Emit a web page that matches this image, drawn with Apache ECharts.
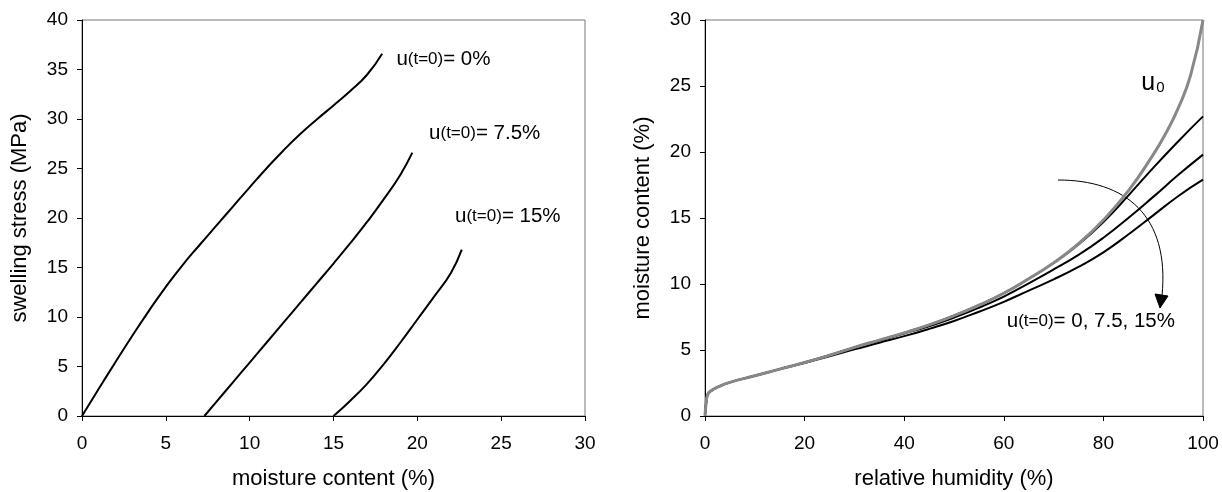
<!DOCTYPE html>
<html>
<head>
<meta charset="utf-8">
<script src="https://cdn.jsdelivr.net/npm/echarts@6/dist/echarts.min.js"></script>
<style>
html,body{margin:0;padding:0;background:#fff;}
#chart{width:1222px;height:492px;}
</style>
</head>
<body>
<div id="chart"></div>
<script>
// ---- Left panel: swelling stress vs moisture content ----
const leftXTicks = [0, 5, 10, 15, 20, 25, 30];
const leftYTicks = [0, 5, 10, 15, 20, 25, 30, 35, 40];
const swell_u0 = [[0,0],[1,2.75],[2,5.45],[3,8.1],[4,10.65],[5,13.05],[6,15.25],[7,17.25],[8,19.2],[9,21.15],[10,23.1],[11,25.0],[12,26.8],[13,28.45],[14,29.95],[15,31.37],[16,32.82],[17,34.47],[17.9,36.6]];
const swell_u75 = [[7.3,0],[8,1.4],[9,3.4],[10,5.4],[11,7.4],[12,9.4],[13,11.4],[14,13.4],[15,15.4],[16,17.45],[17,19.6],[18,21.9],[19,24.4],[19.7,26.6]];
const swell_u15 = [[15,0],[16,1.55],[17,3.25],[18,5.25],[19,7.45],[20,9.75],[21,12.05],[22,14.45],[22.65,16.8]];
const leftLabels = ['u(t=0)= 0%', 'u(t=0)= 7.5%', 'u(t=0)= 15%'];

// ---- Right panel: moisture content vs relative humidity ----
const rightXTicks = [0, 20, 40, 60, 80, 100];
const rightYTicks = [0, 5, 10, 15, 20, 25, 30];
const iso_u0 = [[0,0],[0.2,0.9],[0.5,1.6],[1,1.85],[3,2.27],[5,2.55],[10,3.05],[15,3.55],[20,4.05],[25,4.6],[30,5.2],[35,5.75],[40,6.3],[45,6.9],[50,7.6],[55,8.4],[60,9.3],[65,10.4],[70,11.6],[75,13.05],[80,14.85],[85,17.05],[90,19.8],[92.5,21.4],[95,23.3],[97.5,25.8],[100,30]];
const iso_t0_0 = [[0,0],[0.2,0.9],[0.5,1.6],[1,1.85],[3,2.27],[5,2.55],[10,3.05],[15,3.55],[20,4.05],[25,4.6],[30,5.2],[35,5.75],[40,6.3],[45,6.9],[50,7.6],[55,8.4],[60,9.3],[65,10.4],[70,11.6],[75,13.0],[80,14.7],[85,16.7],[90,18.8],[95,20.8],[100,22.7]];
const iso_t0_75 = [[0,0],[0.2,0.9],[0.5,1.6],[1,1.85],[3,2.27],[5,2.55],[10,3.05],[15,3.55],[20,4.05],[25,4.6],[30,5.2],[35,5.72],[40,6.25],[45,6.8],[50,7.45],[55,8.2],[60,9.05],[65,10.05],[70,11.1],[75,12.2],[80,13.5],[85,15.0],[90,16.6],[95,18.25],[100,19.8]];
const iso_t0_15 = [[0,0],[0.2,0.9],[0.5,1.6],[1,1.85],[3,2.27],[5,2.55],[10,3.05],[15,3.55],[20,4.02],[25,4.52],[30,5.05],[35,5.55],[40,6.05],[45,6.6],[50,7.2],[55,7.9],[60,8.65],[65,9.5],[70,10.35],[75,11.3],[80,12.4],[85,13.75],[90,15.2],[95,16.65],[100,17.9]];

const FONT = 'Liberation Sans, Arial, sans-serif';
const chart = echarts.init(document.getElementById('chart'), null, {renderer: 'canvas'});

function xAxisCfg(gridIndex, ticks, name) {
  return {
    type: 'value', gridIndex, min: ticks[0], max: ticks[ticks.length-1], interval: ticks[1]-ticks[0],
    name, nameLocation: 'middle', nameGap: 52,
    nameTextStyle: {fontFamily: FONT, fontSize: 22, color: '#000'},
    axisLine: {show: true, onZero: false, lineStyle: {color: '#000', width: 1}},
    axisTick: {show: true, inside: false, length: 5, lineStyle: {color: '#000'}},
    axisLabel: {fontFamily: FONT, fontSize: 19, color: '#000', margin: 18},
    splitLine: {show: false}
  };
}
function yAxisCfg(gridIndex, ticks, name) {
  return {
    type: 'value', gridIndex, min: ticks[0], max: ticks[ticks.length-1], interval: ticks[1]-ticks[0],
    name, nameLocation: 'middle', nameGap: 51,
    nameTextStyle: {fontFamily: FONT, fontSize: 22, color: '#000'},
    axisLine: {show: true, onZero: false, lineStyle: {color: '#000', width: 1}},
    axisTick: {show: true, inside: false, length: 5, lineStyle: {color: '#000'}},
    axisLabel: {fontFamily: FONT, fontSize: 19, color: '#000', margin: 14},
    splitLine: {show: false}
  };
}
function line(xi, data, color, width, z, sm) {
  return {type: 'line', xAxisIndex: xi, yAxisIndex: xi, data, showSymbol: false, symbol: 'none',
    smooth: sm, lineStyle: {color, width}, z, silent: true, animation: false};
}

chart.setOption({
  animation: false,
  backgroundColor: '#fff',
  grid: [
    {left: 82, right: 637, top: 20, bottom: 76, show: true, borderColor: '#777', borderWidth: 1, containLabel: false, outerBoundsMode: 'none'},
    {left: 705, right: 19, top: 20, bottom: 76, show: true, borderColor: '#777', borderWidth: 1, containLabel: false, outerBoundsMode: 'none'}
  ],
  xAxis: [xAxisCfg(0, leftXTicks, 'moisture content (%)'), xAxisCfg(1, rightXTicks, 'relative humidity (%)')],
  yAxis: [yAxisCfg(0, leftYTicks, 'swelling stress (MPa)'), yAxisCfg(1, rightYTicks, 'moisture content (%)')],
  series: [
    line(0, swell_u0, '#000', 2, 3, 0.5),
    line(0, swell_u75, '#000', 2, 3, 0.5),
    line(0, swell_u15, '#000', 2, 3, 0.5),
    line(1, iso_t0_15, '#000', 2, 3, 0.5),
    line(1, iso_t0_75, '#000', 2, 3, 0.5),
    line(1, iso_t0_0, '#000', 2, 3, 0.5),
    line(1, iso_u0, '#888', 3, 4, 0.5)
  ]
});

// annotations anchored in data coordinates
const leftAnchors = [[18.75, 36.0], [20.7, 28.6], [22.25, 20.2]];
const rich = {
  big: {fontFamily: FONT, fontSize: 20.5, color: '#000'},
  small: {fontFamily: FONT, fontSize: 17, color: '#000'},
  ubig: {fontFamily: FONT, fontSize: 25, color: '#000'},
  sub: {fontFamily: FONT, fontSize: 15, color: '#000', padding: [9, 0, 0, 1]}
};
const graphics = [];
leftLabels.forEach((lab, i) => {
  const p = chart.convertToPixel({gridIndex: 0}, leftAnchors[i]);
  const rest = lab.replace('u(t=0)', '');
  graphics.push({type: 'text', x: p[0], y: p[1], silent: true, style: {
    text: '{big|u}{small|(t=0)}{big|' + rest + '}', rich, verticalAlign: 'middle', align: 'left'}});
});
const pr = chart.convertToPixel({gridIndex: 1}, [60.6, 7.2]);
graphics.push({type: 'text', x: pr[0], y: pr[1], silent: true, style: {
  text: '{big|u}{small|(t=0)}{big|= 0, 7.5, 15%}', rich, verticalAlign: 'middle', align: 'left'}});
const pu = chart.convertToPixel({gridIndex: 1}, [87.6, 25.2]);
graphics.push({type: 'text', x: pu[0], y: pu[1], silent: true, style: {
  text: '{ubig|u}{sub|0}', rich, verticalAlign: 'middle', align: 'left'}});
// curved arrow
graphics.push({type: 'bezierCurve', silent: true, shape: {x1: 1058, y1: 180, cpx1: 1125, cpy1: 180, cpx2: 1170, cpy2: 215, x2: 1162, y2: 296},
  style: {stroke: '#000', lineWidth: 1, fill: null}});
graphics.push({type: 'polygon', silent: true, shape: {points: [[1155, 294], [1168, 296], [1160, 308]]},
  style: {fill: '#000', stroke: '#000', lineWidth: 1}});
chart.setOption({graphic: graphics});
</script>
</body>
</html>
